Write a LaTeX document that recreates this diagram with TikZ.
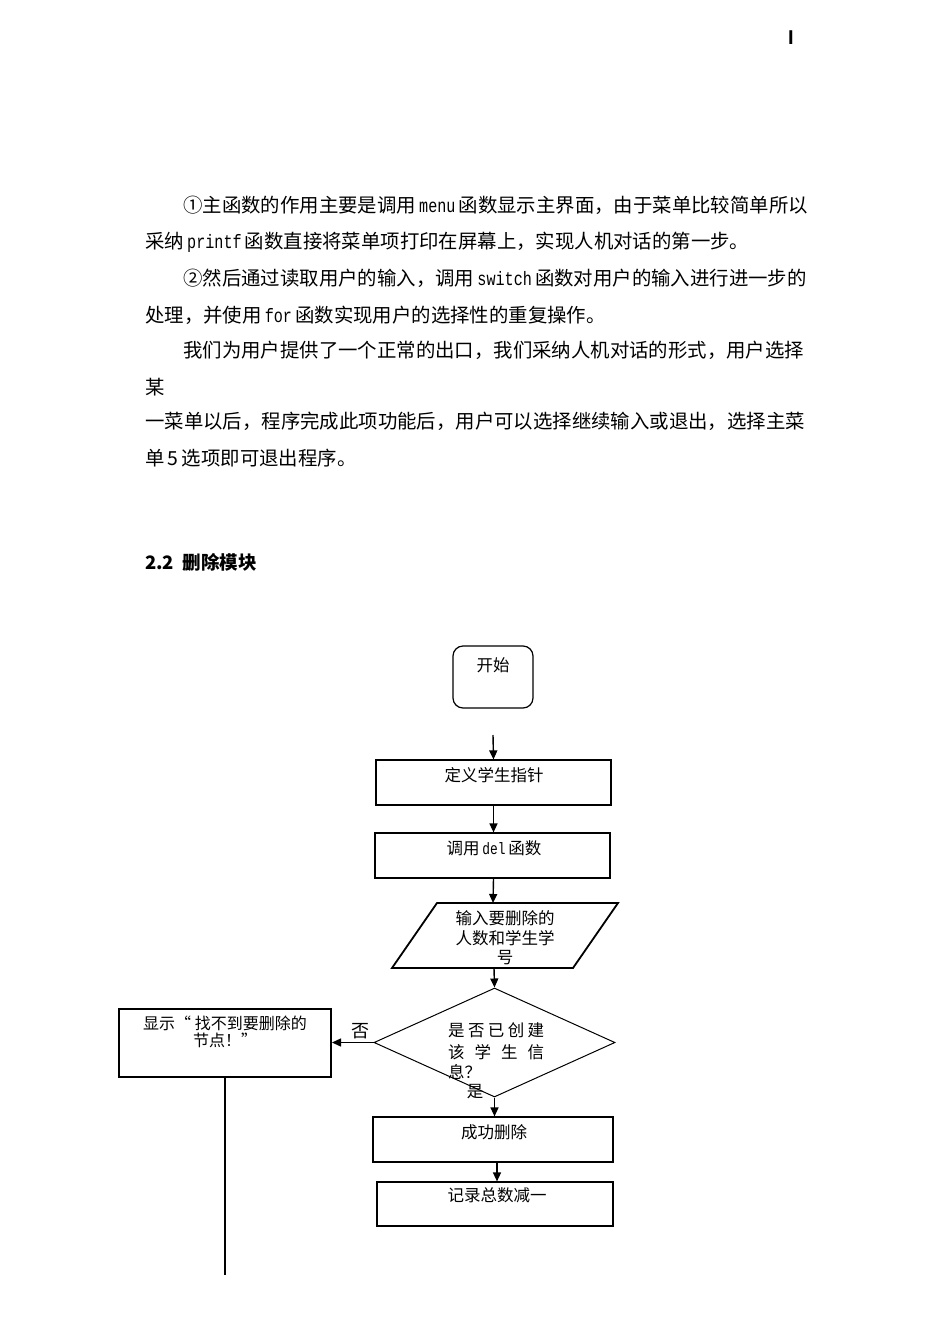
\documentclass[tikz,border=0pt]{standalone}
\usepackage{graphicx}
\usepackage{fontspec}
\setmainfont{Noto Sans CJK SC}
\newfontfamily\lmono{Liberation Mono}
\newfontfamily\lsans{Liberation Sans}
\newcommand\lat[1]{\scalebox{0.78}[1]{\lmono #1}}
\usetikzlibrary{arrows.meta,shapes.geometric}
\tikzset{
  body/.style={anchor=west, inner sep=0pt, font=\fontsize{19.4pt}{23pt}\selectfont},
  ftxt/.style={inner sep=0pt, font=\fontsize{16.5pt}{20pt}\selectfont},
  boxs/.style={draw, line width=1.2pt, inner sep=0pt},
  arr/.style={line width=1.4pt, -{Triangle[length=9pt,width=8pt]}},
  plain/.style={line width=1.6pt}
}
\begin{document}
\begin{tikzpicture}[x=1pt,y=-1pt]
\fill[white] (0,0) rectangle (950,1344);
\useasboundingbox (0,0) rectangle (950,1344);
% page mark
\node[inner sep=0pt, font=\lsans\bfseries\fontsize{20pt}{20pt}\selectfont] (pg) at (791,38) {I};
% body text
\node[body] (l1) at (183,205) {①主函数的作用主要是调用\,\lat{menu}\,函数显示主界面，由于菜单比较简单所以};
\node[body] (l2) at (145,242) {采纳\,\lat{printf}\,函数直接将菜单项打印在屏幕上，实现人机对话的第一步。};
\node[body] (l3) at (183,278) {②然后通过读取用户的输入，调用\,\lat{switch}\,函数对用户的输入进行进一步的};
\node[body] (l4) at (145,315) {处理，并使用\,\lat{for}\,函数实现用户的选择性的重复操作。};
\node[body] (l5) at (183,350) {我们为用户提供了一个正常的出口，我们采纳人机对话的形式，用户选择};
\node[body] (l6) at (145,387) {某};
\node[body] (l7) at (145,421) {一菜单以后，程序完成此项功能后，用户可以选择继续输入或退出，选择主菜};
\node[body] (l8) at (145,458) {单\,5\,选项即可退出程序。};
% heading
\node[anchor=west, inner sep=0pt, font=\bfseries\fontsize{18.5pt}{20pt}\selectfont] (h) at (145,562) {2.2\ \ 删除模块};
% flowchart
\node[boxs, rounded corners=10pt, minimum width=80pt, minimum height=62pt] (start) at (493,677) {};
\node[ftxt] (tstart) at (493,665) {开始};
\coordinate (a0) at (493,735);
\node[boxs, minimum width=235pt, minimum height=45pt] (def) at (493.5,782.5) {};
\node[ftxt] (tdef) at (494,775) {定义学生指针};
\node[boxs, minimum width=235pt, minimum height=45pt] (call) at (492.5,855.5) {};
\node[ftxt] (tcall) at (494,848) {调用\,\lat{del}\,函数};
% parallelogram
\draw[line width=1.8pt] (437,903) -- (618,903) -- (573,968) -- (392,968) -- cycle;
\coordinate (ptop) at (493,903);
\coordinate (pbot) at (494,968);
\node[ftxt, align=center, font=\fontsize{16.5pt}{19.5pt}\selectfont] (tpar) at (505,938) {输入要删除的\\人数和学生学\\号};
% diamond
\node[draw, diamond, line width=1pt, inner sep=0pt, minimum width=241pt, minimum height=109pt] (dia) at (494.5,1042.5) {};
\node[ftxt, anchor=west] (dq1) at (448,1030) {\makebox[96pt][s]{是\hfill 否\hfill 已\hfill 创\hfill 建}};
\node[ftxt, anchor=west] (dq2) at (448,1052) {\makebox[96pt][s]{该\hfill 学\hfill 生\hfill 信}};
\node[ftxt, anchor=west] (dq3) at (448,1072) {息？};
% no branch
\node[draw, line width=2pt, inner sep=0pt, minimum width=212pt, minimum height=68pt] (show) at (225,1043) {};
\node[ftxt, align=center, font=\fontsize{16pt}{17.5pt}\selectfont] (tshow) at (225,1032) {显示“\ 找不到要删除的\\节点！”};
\node[ftxt, font=\fontsize{18pt}{18pt}\selectfont] (tno) at (360,1031) {否};
\node[ftxt] (tyes) at (475,1092) {是};
\coordinate (end) at (225,1275);
% yes branch
\node[boxs, minimum width=240pt, minimum height=45pt] (succ) at (493,1139.5) {};
\node[ftxt] (tsucc) at (494,1132) {成功删除};
\node[boxs, minimum width=236pt, minimum height=44pt] (rec) at (495,1204) {};
\node[ftxt] (trec) at (497,1195) {记录总数减一};
\coordinate (x497) at (497,0);
% connectors
\draw[arr] (a0) -- (def.north);
\draw[arr] (def.south) -- (call.north -| def.south);
\draw[arr] (call.south -| def.south) -- (ptop);
\draw[arr] (pbot) -- (dia.north);
\draw[arr] (dia.west) -- (dia.west -| show.east);
\draw[arr] (dia.south) -- (dia.south |- succ.north);
\draw[arr] (succ.south -| x497) -- (rec.north -| x497);
\draw[plain] (show.south) -- (end);
\end{tikzpicture}
\end{document}
